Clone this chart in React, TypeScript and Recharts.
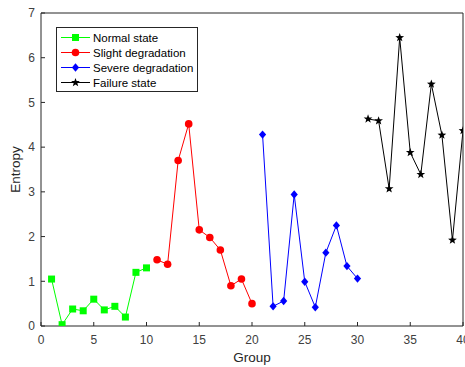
import { LineChart, Line, XAxis, YAxis } from 'recharts';

const normalGroups = [1, 2, 3, 4, 5, 6, 7, 8, 9, 10];
const normalState = [1.05, 0.03, 0.38, 0.34, 0.6, 0.36, 0.44, 0.2, 1.2, 1.3];

const slightGroups = [11, 12, 13, 14, 15, 16, 17, 18, 19, 20];
const slightDegradation = [1.48, 1.38, 3.7, 4.52, 2.15, 1.98, 1.7, 0.9, 1.05, 0.5];

const severeGroups = [21, 22, 23, 24, 25, 26, 27, 28, 29, 30];
const severeDegradation = [4.28, 0.44, 0.56, 2.94, 0.99, 0.42, 1.64, 2.25, 1.34, 1.06];

const failureGroups = [31, 32, 33, 34, 35, 36, 37, 38, 39, 40];
const failureState = [4.63, 4.59, 3.07, 6.45, 3.88, 3.39, 5.41, 4.27, 1.92, 4.37];

const xTicks = [0, 5, 10, 15, 20, 25, 30, 35, 40];
const yTicks = [0, 1, 2, 3, 4, 5, 6, 7];

const toRows = (groups: number[], values: number[]) =>
  groups.map((g, i) => ({ group: g, entropy: values[i] }));

const FONT = '"Liberation Sans", Arial, Helvetica, sans-serif';
const AXIS = '#262626';
const TICK_TEXT = '#404040';

type Shape = 'square' | 'circle' | 'diamond' | 'star';

function Marker({ shape, cx, cy, color }: { shape: Shape; cx: number; cy: number; color: string }) {
  if (shape === 'square') return <rect x={cx - 3.5} y={cy - 3.5} width={7} height={7} fill={color} />;
  if (shape === 'circle') return <circle cx={cx} cy={cy} r={3.8} fill={color} />;
  if (shape === 'diamond')
    return <path d={`M${cx},${cy - 4.2}L${cx + 3.6},${cy}L${cx},${cy + 4.2}L${cx - 3.6},${cy}Z`} fill={color} />;
  const pts: string[] = [];
  for (let k = 0; k < 10; k++) {
    const r = k % 2 === 0 ? 4.6 : 1.9;
    const a = -Math.PI / 2 + (k * Math.PI) / 5;
    pts.push(`${cx + r * Math.cos(a)},${cy + r * Math.sin(a)}`);
  }
  return <polygon points={pts.join(' ')} fill={color} />;
}

const dotOf = (shape: Shape, color: string) => (props: any) => {
  const { cx, cy, index } = props;
  if (cx == null || cy == null) return <g key={`${shape}-${index}`} />;
  return (
    <g key={`${shape}-${index}`}>
      <Marker shape={shape} cx={cx} cy={cy} color={color} />
    </g>
  );
};

const series = [
  { name: 'Normal state', color: '#00ff00', shape: 'square' as Shape, data: toRows(normalGroups, normalState) },
  { name: 'Slight degradation', color: '#ff0000', shape: 'circle' as Shape, data: toRows(slightGroups, slightDegradation) },
  { name: 'Severe degradation', color: '#0000ff', shape: 'diamond' as Shape, data: toRows(severeGroups, severeDegradation) },
  { name: 'Failure state', color: '#000000', shape: 'star' as Shape, data: toRows(failureGroups, failureState) },
];

function LegendBox() {
  return (
    <div
      style={{
        position: 'absolute',
        left: 56,
        top: 27,
        width: 140,
        height: 63,
        border: `1px solid ${AXIS}`,
        background: '#fff',
      }}
    >
      <svg width={140} height={63}>
        {series.map((s, i) => {
          const y = 9.5 + i * 15;
          return (
            <g key={s.name}>
              <line x1={4} x2={33} y1={y} y2={y} stroke={s.color} strokeWidth={1} />
              <Marker shape={s.shape} cx={18.5} cy={y} color={s.color} />
              <text x={36} y={y + 4} fontSize={11.5} fontFamily={FONT} fill="#000">
                {s.name}
              </text>
            </g>
          );
        })}
      </svg>
    </div>
  );
}

export default function App() {
  const tickStyle = { fontSize: 12, fill: TICK_TEXT, fontFamily: FONT };
  return (
    <div style={{ position: 'absolute', left: 0, top: 0, width: 465, height: 367, background: '#fff' }}>
      <LineChart width={465} height={367} margin={{ top: 12, right: 1, left: 0, bottom: 0 }}>
        <XAxis
          xAxisId={0}
          type="number"
          dataKey="group"
          domain={[0, 40]}
          ticks={xTicks}
          interval={0}
          height={41}
          tickSize={-4}
          tickMargin={13.5}
          tick={tickStyle}
          stroke={AXIS}
          allowDataOverflow
          label={{ value: 'Group', position: 'insideBottom', offset: 5, fontSize: 13.5, fill: '#262626', fontFamily: FONT }}
        />
        <XAxis
          xAxisId="top"
          orientation="top"
          type="number"
          dataKey="group"
          domain={[0, 40]}
          ticks={xTicks}
          interval={0}
          height={1}
          tickSize={-4}
          tick={false}
          stroke={AXIS}
          allowDataOverflow
        />
        <YAxis
          yAxisId={0}
          type="number"
          domain={[0, 7]}
          ticks={yTicks}
          interval={0}
          width={41}
          tickSize={-4}
          tickMargin={10}
          tick={tickStyle}
          stroke={AXIS}
          allowDataOverflow
          label={{
            value: 'Entropy',
            angle: -90,
            position: 'insideLeft',
            offset: 15,
            fontSize: 13.5,
            fill: '#262626',
            fontFamily: FONT,
            style: { textAnchor: 'middle' },
          }}
        />
        <YAxis
          yAxisId="right"
          orientation="right"
          type="number"
          domain={[0, 7]}
          ticks={yTicks}
          interval={0}
          width={1}
          tickSize={-4}
          tick={false}
          stroke={AXIS}
          allowDataOverflow
        />
        {series.map((s) => (
          <Line
            key={s.name}
            xAxisId={0}
            yAxisId={0}
            data={s.data}
            dataKey="entropy"
            name={s.name}
            stroke={s.color}
            strokeWidth={1}
            type="linear"
            dot={dotOf(s.shape, s.color)}
            activeDot={false}
            isAnimationActive={false}
          />
        ))}
      </LineChart>
      <LegendBox />
    </div>
  );
}
